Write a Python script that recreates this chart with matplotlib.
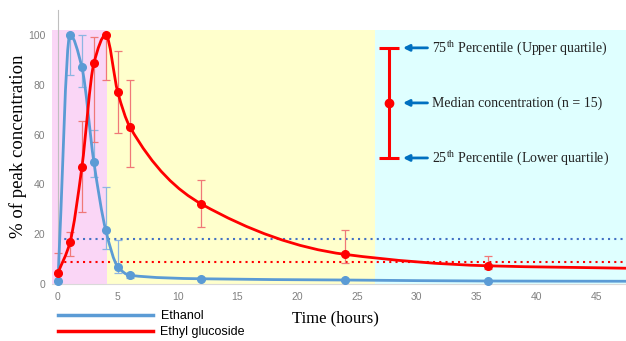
import numpy as np
import matplotlib
matplotlib.use('Agg')
import matplotlib.pyplot as plt
from matplotlib.path import Path
from matplotlib.patches import PathPatch
from matplotlib.lines import Line2D

plt.rcParams['mathtext.fontset'] = 'custom'
plt.rcParams['mathtext.rm'] = 'Liberation Serif'

# data (hours, % of peak concentration)
time = [0, 1, 2, 3, 4, 5, 6, 12, 24, 36, 48]
ethanol = [1.2, 100, 87, 49, 21.5, 7, 3.5, 2.1, 1.6, 1.2, 1.1]
ethanol_lo = [1.2, 84, 79, 43, 14, 4.4, 2.5, 1.8, 1.3, 1.0, 1.0]
ethanol_hi = [1.2, 100, 100, 62, 39, 17.5, 4.5, 2.5, 2.0, 1.5, 1.3]
glucoside = [4.5, 16.7, 46.9, 88.6, 100, 77, 63.2, 32.1, 11.9, 7.3, 6.3]
glucoside_lo = [4.0, 11.2, 29, 57, 82, 60.8, 47.1, 22.8, 8.3, 6.0, 5.5]
glucoside_hi = [12.6, 20.8, 65.6, 99, 100, 93.4, 81.8, 41.8, 21.7, 11.2, 7.5]
ethanol_cutoff = 18
glucoside_cutoff = 9

# background phases
phases = [(-0.5, 4.1, '#FAD6F6'), (4.1, 26.5, '#FFFFCC'), (26.5, 48, '#DFFFFF')]

# key (median with quartiles)
key_x = 27.7
key_vals = [50.6, 72.7, 94.8]
key_text = [r'25$^{\rm th}$ Percentile (Lower quartile)',
            'Median concentration (n = 15)',
            r'75$^{\rm th}$ Percentile (Upper quartile)']


def smooth_path(x, y):
    # monotone cubic (Fritsch-Carlson) slopes, drawn as Bezier segments
    x = np.asarray(x, float)
    y = np.asarray(y, float)
    h = np.diff(x)
    d = np.diff(y) / h
    m = np.zeros_like(y)
    m[0], m[-1] = d[0], d[-1]
    for i in range(1, len(x) - 1):
        if d[i - 1] * d[i] <= 0:
            m[i] = 0
        else:
            w1 = 2 * h[i] + h[i - 1]
            w2 = h[i] + 2 * h[i - 1]
            m[i] = (w1 + w2) / (w1 / d[i - 1] + w2 / d[i])
    verts = [(x[0], y[0])]
    codes = [Path.MOVETO]
    for i in range(len(x) - 1):
        verts += [(x[i] + h[i] / 3, y[i] + m[i] * h[i] / 3),
                  (x[i + 1] - h[i] / 3, y[i + 1] - m[i + 1] * h[i] / 3),
                  (x[i + 1], y[i + 1])]
        codes += [Path.CURVE4] * 3
    return Path(verts, codes)


fig = plt.figure(figsize=(6.26, 3.41), dpi=100)
ax = fig.add_axes([52 / 626, 57 / 341, 574 / 626, 274 / 341])
ax.set_xlim(-0.5, 47.5)
ax.set_ylim(0, 110)

for x0, x1, c in phases:
    ax.fill_between([x0, x1], 0, 102, color=c, lw=0, zorder=0)

ax.axhline(ethanol_cutoff, xmin=0.5 / 48, color='#4472C4', lw=1.5, ls=(0, (1, 2)), zorder=2)
ax.axhline(glucoside_cutoff, xmin=0.5 / 48, color='#FF0000', lw=1.5, ls=(0, (1, 2)), zorder=2)

series = [(ethanol, ethanol_lo, ethanol_hi, '#5B9BD5', '#8DB6E2'),
          (glucoside, glucoside_lo, glucoside_hi, '#FF0000', '#F07878')]
for vals, lo, hi, col, ecol in series:
    v = np.array(vals)
    err = [v - np.array(lo), np.array(hi) - v]
    ax.errorbar(time, vals, yerr=err, fmt='none', ecolor=ecol, elinewidth=0.9,
                capsize=3, capthick=0.9, zorder=3)
    ax.add_patch(PathPatch(smooth_path(time, vals), fill=False, edgecolor=col,
                           lw=2, zorder=4))
    ax.plot(time, vals, 'o', color=col, ms=5.5, zorder=5, clip_on=False)

# key
ax.errorbar([key_x], [key_vals[1]],
            yerr=[[key_vals[1] - key_vals[0]], [key_vals[2] - key_vals[1]]],
            fmt='o', color='#FF0000', ms=6, elinewidth=2.2, capsize=7.5,
            capthick=2.2, zorder=5)
for yv, txt in zip(key_vals, key_text):
    ax.annotate('', xy=(28.85, yv), xytext=(30.9, yv),
                arrowprops=dict(arrowstyle='-|>', color='#0070C0', lw=2,
                                mutation_scale=9, shrinkA=0, shrinkB=0))
    ax.text(31.3, yv, txt, family='Liberation Serif', fontsize=10,
            va='center', ha='left', color='#222222')

for s in ['top', 'right']:
    ax.spines[s].set_visible(False)
ax.spines['left'].set_position(('data', 0))
ax.spines['left'].set_color('#BFBFBF')
ax.spines['bottom'].set_color('#D9D9D9')
ax.set_xticks(range(0, 50, 5))
ax.set_yticks(range(0, 101, 20))
ax.tick_params(length=0, labelcolor='#808080', labelsize=7.5)
ax.tick_params(axis='y', pad=9)
ax.tick_params(axis='x', pad=6)
for lab in ax.get_xticklabels() + ax.get_yticklabels():
    lab.set_family('Liberation Sans')

fig.text(18 / 626, 1 - 146 / 341, '% of peak concentration', rotation=90,
         family='Liberation Serif', fontsize=13.5, ha='center', va='center')
fig.text(335 / 626, 1 - 318 / 341, 'Time (hours)', family='Liberation Serif',
         fontsize=12, ha='center', va='center')

handles = [Line2D([], [], color='#5B9BD5', lw=2.5),
           Line2D([], [], color='#FF0000', lw=2.5)]
fig.legend(handles, ['Ethanol', 'Ethyl glucoside'], loc='upper left',
           bbox_to_anchor=(58 / 626, 1 - 310 / 341), frameon=False,
           prop={'family': 'Liberation Sans', 'size': 9}, handlelength=7.6,
           handletextpad=0.6, labelspacing=0.35, borderpad=0, borderaxespad=0)

fig.savefig('out.png', dpi=100)
